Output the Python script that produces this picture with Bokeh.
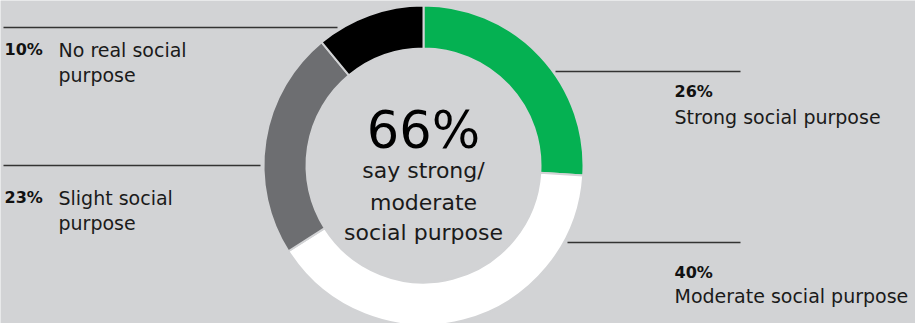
import math
from bokeh.plotting import figure
from bokeh.models import Range1d, ColumnDataSource
from bokeh.core.properties import value
from bokeh.embed import file_html
from bokeh.resources import INLINE

# ---- data ----
categories = ["Strong social purpose", "Moderate social purpose", "Slight social purpose", "No real social purpose"]
shares = [26, 40, 23, 11]          # slice sizes as drawn
pct_labels = ["26%", "40%", "23%", "10%"]
colors = ["#05b152", "#ffffff", "#6d6e71", "#000000"]
headline = "66%"
headline_sub = ["say strong/", "moderate", "social purpose"]

BG = "#d2d3d5"
FONT = "DejaVu Sans"
W, H = 915, 323

p = figure(width=W, height=H, x_range=Range1d(0, W), y_range=Range1d(0, H),
           output_backend="svg", toolbar_location=None, min_border=0)
p.axis.visible = False
p.grid.visible = False
p.outline_line_color = None
p.background_fill_color = BG
p.border_fill_color = BG

# donut
cx, cy, r_in, r_out = 423, 158, 117, 160
total = sum(shares)
starts, ends, acc = [], [], 0
for s in shares:
    starts.append(math.pi / 2 - 2 * math.pi * acc / total)
    acc += s
    ends.append(math.pi / 2 - 2 * math.pi * acc / total)
src = ColumnDataSource(dict(start=starts, end=ends, color=colors, cat=categories))
p.annular_wedge(x=cx, y=cy, inner_radius=r_in, outer_radius=r_out,
                start_angle="start", end_angle="end", direction="clock",
                fill_color="color", line_color=BG, line_width=2, source=src)

# leader lines
p.segment(x0=[3, 3, 555, 567], y0=[296, 158, 252, 81],
          x1=[337, 260, 740, 740], y1=[296, 158, 252, 81],
          line_color="#333333", line_width=1.3)

TXT = "#111111"
# left labels: No real (idx 3), Slight (idx 2)
left = [(3, 274, ["No real social", "purpose"]), (2, 126, ["Slight social", "purpose"])]
for idx, y0, lines in left:
    p.text(x=[4], y=[y0], text=[pct_labels[idx]], text_font=value(FONT), text_font_style="bold",
           text_font_size="16px", text_color=TXT, text_baseline="alphabetic")
    p.text(x=[58, 58], y=[y0, y0 - 25], text=lines, text_font=value(FONT),
           text_font_size="19px", text_color="#1a1a1a", text_baseline="alphabetic")

# right labels: Strong (idx 0), Moderate (idx 1)
right = [(0, 232, 207), (1, 51, 28)]
for idx, yp, yl in right:
    p.text(x=[674], y=[yp], text=[pct_labels[idx]], text_font=value(FONT), text_font_style="bold",
           text_font_size="16px", text_color=TXT, text_baseline="alphabetic")
    p.text(x=[674], y=[yl], text=[categories[idx]], text_font=value(FONT),
           text_font_size="19px", text_color="#1a1a1a", text_baseline="alphabetic")

# centre text
p.text(x=[cx], y=[193], text=[headline], text_font=value(FONT), text_font_size="51px",
       text_color="#000000", text_align="center", text_baseline="alphabetic")
p.text(x=[cx] * 3, y=[153, 121, 91], text=headline_sub, text_font=value(FONT),
       text_font_size="22px", text_color="#1a1a1a", text_align="center", text_baseline="alphabetic")

open("out.html", "w").write(file_html(p, INLINE))
